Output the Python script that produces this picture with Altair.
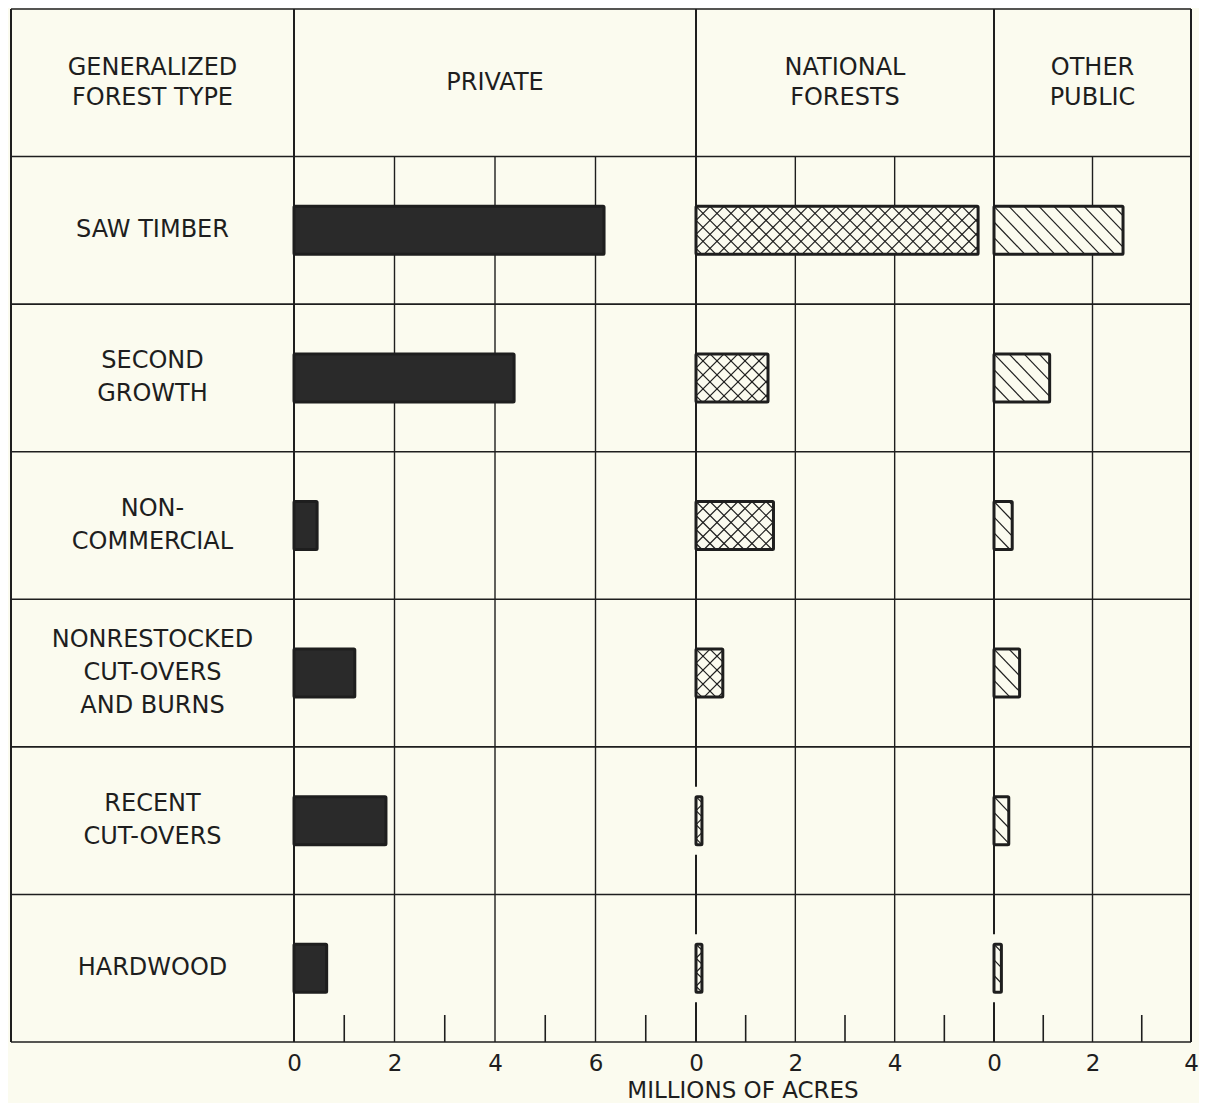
import altair as alt
import pandas as pd

# ---------------- data ----------------
categories = ["SAW TIMBER", "SECOND\nGROWTH", "NON-\nCOMMERCIAL",
              "NONRESTOCKED\nCUT-OVERS\nAND BURNS", "RECENT\nCUT-OVERS", "HARDWOOD"]
private_vals = [6.17, 4.38, 0.46, 1.21, 1.83, 0.65]
national_vals = [5.68, 1.45, 1.56, 0.54, 0.12, 0.12]
other_vals = [2.62, 1.13, 0.37, 0.52, 0.30, 0.15]

panel_keys = ["private", "national", "other"]
panel_names = ["PRIVATE", "NATIONAL\nFORESTS", "OTHER\nPUBLIC"]
panel_offsets = [0, 8, 14]
panel_spans = [8, 6, 4]
tick_values = [0, 2, 4, 6, 8, 10, 12, 14, 16, 18]
tick_labels = ["0", "2", "4", "6", "0", "2", "4", "0", "2", "4"]
corner_title = "GENERALIZED\nFOREST TYPE"
axis_title = "MILLIONS OF ACRES"

# ---------------- layout / style ----------------
LEFT = -5.64
X_DOMAIN = [LEFT, 0, 8, 14, 18]
X_RANGE = [0, 283, 685, 983, 1180]
W, H = 1180, 1033
NROWS = 7
ROW_PX = H / NROWS
BAR_HALF = 24 / ROW_PX
GAP = 10 / ROW_PX
TICK_LEN = 27 / ROW_PX
CAT_LH = 33
HEAD_LH = 30
BG = "#fbfbef"
INK = "#1e1e1e"
DARK = "#2a2a2a"
FONT = "DejaVu Sans"
FSIZE = 24

panel_vals = {"private": private_vals, "national": national_vals, "other": other_vals}
pxu = {}
for k, off, span in zip(panel_keys, panel_offsets, panel_spans):
    i0 = X_DOMAIN.index(off)
    pxu[k] = (X_RANGE[i0 + 1] - X_RANGE[i0]) / span

hatch_styles = {
    "private": [],
    "national": [(14.0, 48.0), (14.0, -48.0)],
    "other": [(15.0, 46.0)],
}

# ---------------- build tables ----------------
bars = []
for k, off in zip(panel_keys, panel_offsets):
    for i, (cat, v) in enumerate(zip(categories, panel_vals[k])):
        r = i + 1
        bars.append({"panel": k, "cat": cat, "value": v,
                     "x0": off, "x1": off + v,
                     "y0": r + 0.5 - BAR_HALF, "y1": r + 0.5 + BAR_HALF})
bars_df = pd.DataFrame(bars)

hatch = []
for b in bars:
    k = b["panel"]
    w = b["value"] * pxu[k]
    for spacing, D in hatch_styles[k]:
        lo = min(0.0, -D)
        hi = max(w, w - D)
        kk = int(lo // spacing) - 1
        while kk * spacing <= hi + spacing:
            a = kk * spacing
            kk += 1
            if D > 0:
                s_lo = max(0.0, (0 - a) / D)
                s_hi = min(1.0, (w - a) / D)
            else:
                s_lo = max(0.0, (w - a) / D)
                s_hi = min(1.0, (0 - a) / D)
            if s_hi - s_lo < 0.02:
                continue
            xa = b["x0"] + (a + s_lo * D) / pxu[k]
            xb = b["x0"] + (a + s_hi * D) / pxu[k]
            ya = b["y0"] + s_lo * (b["y1"] - b["y0"])
            yb = b["y0"] + s_hi * (b["y1"] - b["y0"])
            hatch.append({"x0": xa, "x1": xb, "y0": ya, "y1": yb})
hatch_df = pd.DataFrame(hatch)

# horizontal table lines
hlines_df = pd.DataFrame([{"x0": LEFT, "x1": 18, "y0": r, "y1": r} for r in range(NROWS + 1)])

# vertical grid lines (even units inside panels)
vg = []
for off, span in zip(panel_offsets, panel_spans):
    for u in range(2, span, 2):
        vg.append({"x0": off + u, "x1": off + u, "y0": 1, "y1": NROWS})
vgrid_df = pd.DataFrame(vg)

# panel borders (zero lines), broken around tiny bars
bl = [{"x0": LEFT, "x1": LEFT, "y0": 0, "y1": NROWS},
      {"x0": 0, "x1": 0, "y0": 0, "y1": NROWS},
      {"x0": 18, "x1": 18, "y0": 0, "y1": NROWS}]
for k, off in zip(panel_keys[1:], panel_offsets[1:]):
    bl.append({"x0": off, "x1": off, "y0": 0, "y1": 1})
    for i, v in enumerate(panel_vals[k]):
        r = i + 1
        if v < 0.2:
            bl.append({"x0": off, "x1": off, "y0": r, "y1": r + 0.5 - BAR_HALF - GAP})
            bl.append({"x0": off, "x1": off, "y0": r + 0.5 + BAR_HALF + GAP, "y1": r + 1})
        else:
            bl.append({"x0": off, "x1": off, "y0": r, "y1": r + 1})
borders_df = pd.DataFrame(bl)

# minor ticks at odd units
mt = []
for off, span in zip(panel_offsets, panel_spans):
    for u in range(1, span, 2):
        mt.append({"x0": off + u, "x1": off + u, "y0": NROWS - TICK_LEN, "y1": NROWS})
ticks_df = pd.DataFrame(mt)


def first_line_y(label, center, lh):
    n = label.count("\n") + 1
    return center - (n - 1) * lh / 2 / ROW_PX


cat_df = pd.DataFrame({"label": categories, "x": [LEFT / 2] * 6,
                       "y": [first_line_y(c, i + 1.5, CAT_LH) for i, c in enumerate(categories)]})
head_labels = [corner_title] + panel_names
head_df = pd.DataFrame({"label": head_labels,
                        "x": [LEFT / 2] + [o + s / 2 for o, s in zip(panel_offsets, panel_spans)],
                        "y": [first_line_y(h, 0.5, HEAD_LH) for h in head_labels]})

# ---------------- encodings ----------------
label_expr = "[" + ",".join("'%s'" % t for t in tick_labels) + "][indexof([" + \
    ",".join(str(v) for v in tick_values) + "], datum.value)]"
xscale = alt.Scale(domain=X_DOMAIN, range=X_RANGE, zero=False, nice=False)
yscale = alt.Scale(domain=[0, NROWS], reverse=True, zero=False, nice=False)
title_x = (X_RANGE[1] + X_RANGE[-1]) / 2
xaxis = alt.Axis(values=tick_values, labelExpr=label_expr, grid=False, domain=False,
                 ticks=False, tickSize=0, labelPadding=10, labelFont=FONT, labelFontSize=23,
                 labelColor=INK, title=axis_title, titleFont=FONT, titleFontSize=23,
                 titleFontWeight="normal", titleColor=INK, titleX=title_x, titleY=48,
                 titleAlign="center", titleBaseline="middle", labelFlush=False)


def X(f):
    return alt.X(f, type="quantitative", scale=xscale, axis=xaxis)


def Y(f):
    return alt.Y(f, type="quantitative", scale=yscale, axis=None)


def seg(df, width, color=INK):
    return alt.Chart(df).mark_rule(color=color, strokeWidth=width).encode(
        x=X("x0"), x2="x1", y=Y("y0"), y2="y1")


hl = seg(hlines_df, 1.6)
vgl = seg(vgrid_df, 1.4)
bdl = seg(borders_df, 2.0)
tkl = seg(ticks_df, 1.6)

fills = alt.Chart(bars_df).mark_rect().encode(
    x=X("x0"), x2="x1", y=Y("y0"), y2="y1",
    fill=alt.Fill("panel:N", scale=alt.Scale(domain=panel_keys, range=[DARK, BG, BG]), legend=None))

hatch_l = alt.Chart(hatch_df).mark_rule(color=INK, strokeWidth=1.2).encode(
    x=X("x0"), x2="x1", y=Y("y0"), y2="y1")

outlines = alt.Chart(bars_df).mark_rect(filled=False, stroke=INK, strokeWidth=3,
                                         cornerRadius=1).encode(
    x=X("x0"), x2="x1", y=Y("y0"), y2="y1")

cat_t = alt.Chart(cat_df).mark_text(font=FONT, fontSize=FSIZE, color=INK, lineBreak="\n",
                                    lineHeight=CAT_LH, align="center", baseline="middle").encode(
    x=X("x"), y=Y("y"), text="label:N")
head_t = alt.Chart(head_df).mark_text(font=FONT, fontSize=FSIZE, color=INK, lineBreak="\n",
                                      lineHeight=HEAD_LH, align="center", baseline="middle").encode(
    x=X("x"), y=Y("y"), text="label:N")

chart = alt.layer(hl, vgl, bdl, tkl, fills, hatch_l, outlines, cat_t, head_t).properties(
    width=W, height=H, padding={"left": 3, "top": 1, "right": 8, "bottom": 61},
    autosize=alt.AutoSizeParams(type="none"),
    background=BG
).configure_view(stroke=None)

chart.save("out.html", embed_options={"renderer": "svg", "actions": False})
